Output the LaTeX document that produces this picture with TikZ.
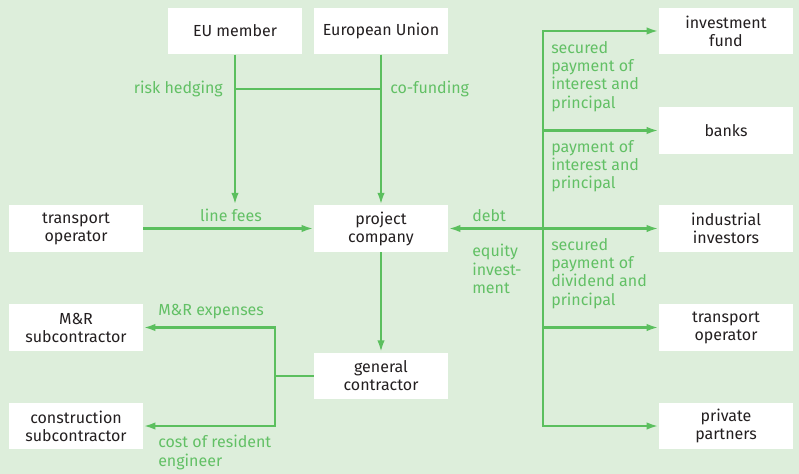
\documentclass[tikz,border=0pt]{standalone}
\usepackage{fontspec}
\setmainfont{Fira Sans}
\usetikzlibrary{arrows.meta}
\definecolor{bgcol}{HTML}{DDEEDB}
\definecolor{flow}{HTML}{5BBF5E}
\definecolor{flowtext}{HTML}{62C065}
\definecolor{ink}{HTML}{231F20}
\tikzset{
  party/.style={fill=white, text=ink, align=center, inner sep=0pt,
    minimum width=100.5pt, minimum height=35pt,
    font=\fontsize{12}{13.5}\selectfont},
  lbl/.style={text=flowtext, inner sep=0pt, align=left,
    font=\fontsize{12}{13.7}\selectfont},
  link/.style={draw=flow, line width=1.85pt},
  arr/.style={link, -{Latex[length=9pt, width=5.5pt]}}
}
\begin{document}
\begin{tikzpicture}[x=0.75pt, y=-0.75pt]
  \fill[bgcol] (0,0) rectangle (799,474);
  \useasboundingbox (0,0) rectangle (799,474);

  % parties
  \node[party] (eum) at (235,31)    {EU member};
  \node[party] (eu)  at (381,31)    {European Union};
  \node[party] (tol) at (76,228.5)  {transport\\operator};
  \node[party] (pc)  at (381,228.5) {project\\company};
  \node[party] (mr)  at (76,327.5)  {M\&R\\subcontractor};
  \node[party] (cs)  at (76,426)    {construction\\subcontractor};
  \node[party] (gc)  at (381,376)   {general\\contractor};
  \node[party] (if)  at (726,31)    {investment\\fund};
  \node[party] (bk)  at (726,130.5) {banks};
  \node[party] (ii)  at (726,228.5) {industrial\\investors};
  \node[party] (tor) at (726,327.5) {transport\\operator};
  \node[party] (pp)  at (726,426)   {private\\partners};

  % guarantees and co-funding from the top
  \coordinate (rh) at (eum.south |- pc.north);
  \draw[arr] (eum.south) -- (rh);
  \draw[arr] (eu.south) -- (pc.north);
  \draw[link] (eum.south |- 0,89) -- (eu.south |- 0,89);
  \node[lbl, anchor=east] (lrh) at (223,89) {risk hedging};
  \node[lbl, anchor=west] (lcf) at (390,89) {co-funding};

  % line fees
  \draw[arr] (tol.east) -- (pc.west);
  \node[lbl] (llf) at (231,215) {line fees};

  % construction side
  \draw[arr] (pc.south) -- (gc.north);
  \coordinate (j) at (275,376);
  \draw[link] (gc.west) -- (j);
  \draw[arr] (j) |- (mr.east);
  \draw[arr] (j) |- (cs.east);
  \node[lbl, anchor=west] (lmr) at (158,312) {M\&R expenses};
  \node[lbl, anchor=north west] (lce) at (158,435) {cost of resident\\engineer};

  % financing side
  \coordinate (t) at (543,228.5);
  \draw[arr] (t) -- (pc.east);
  \draw[arr] (t) |- (if.west);
  \draw[arr] (t) |- (pp.west);
  \draw[arr] (t) -- (ii.west);
  \draw[arr] (t |- bk.west) -- (bk.west);
  \draw[arr] (t |- tor.west) -- (tor.west);
  \node[lbl, anchor=west] (ldb) at (472,216) {debt};
  \node[lbl, anchor=north west] (leq) at (472,244) {equity\\invest-\\ment};
  \node[lbl, anchor=north west] (l1) at (551,41) {secured\\payment of\\interest and\\principal};
  \node[lbl, anchor=north west] (l2) at (551,140) {payment of\\interest and\\principal};
  \node[lbl, anchor=north west] (l3) at (551,238) {secured\\payment of\\dividend and\\principal};
\end{tikzpicture}
\end{document}
